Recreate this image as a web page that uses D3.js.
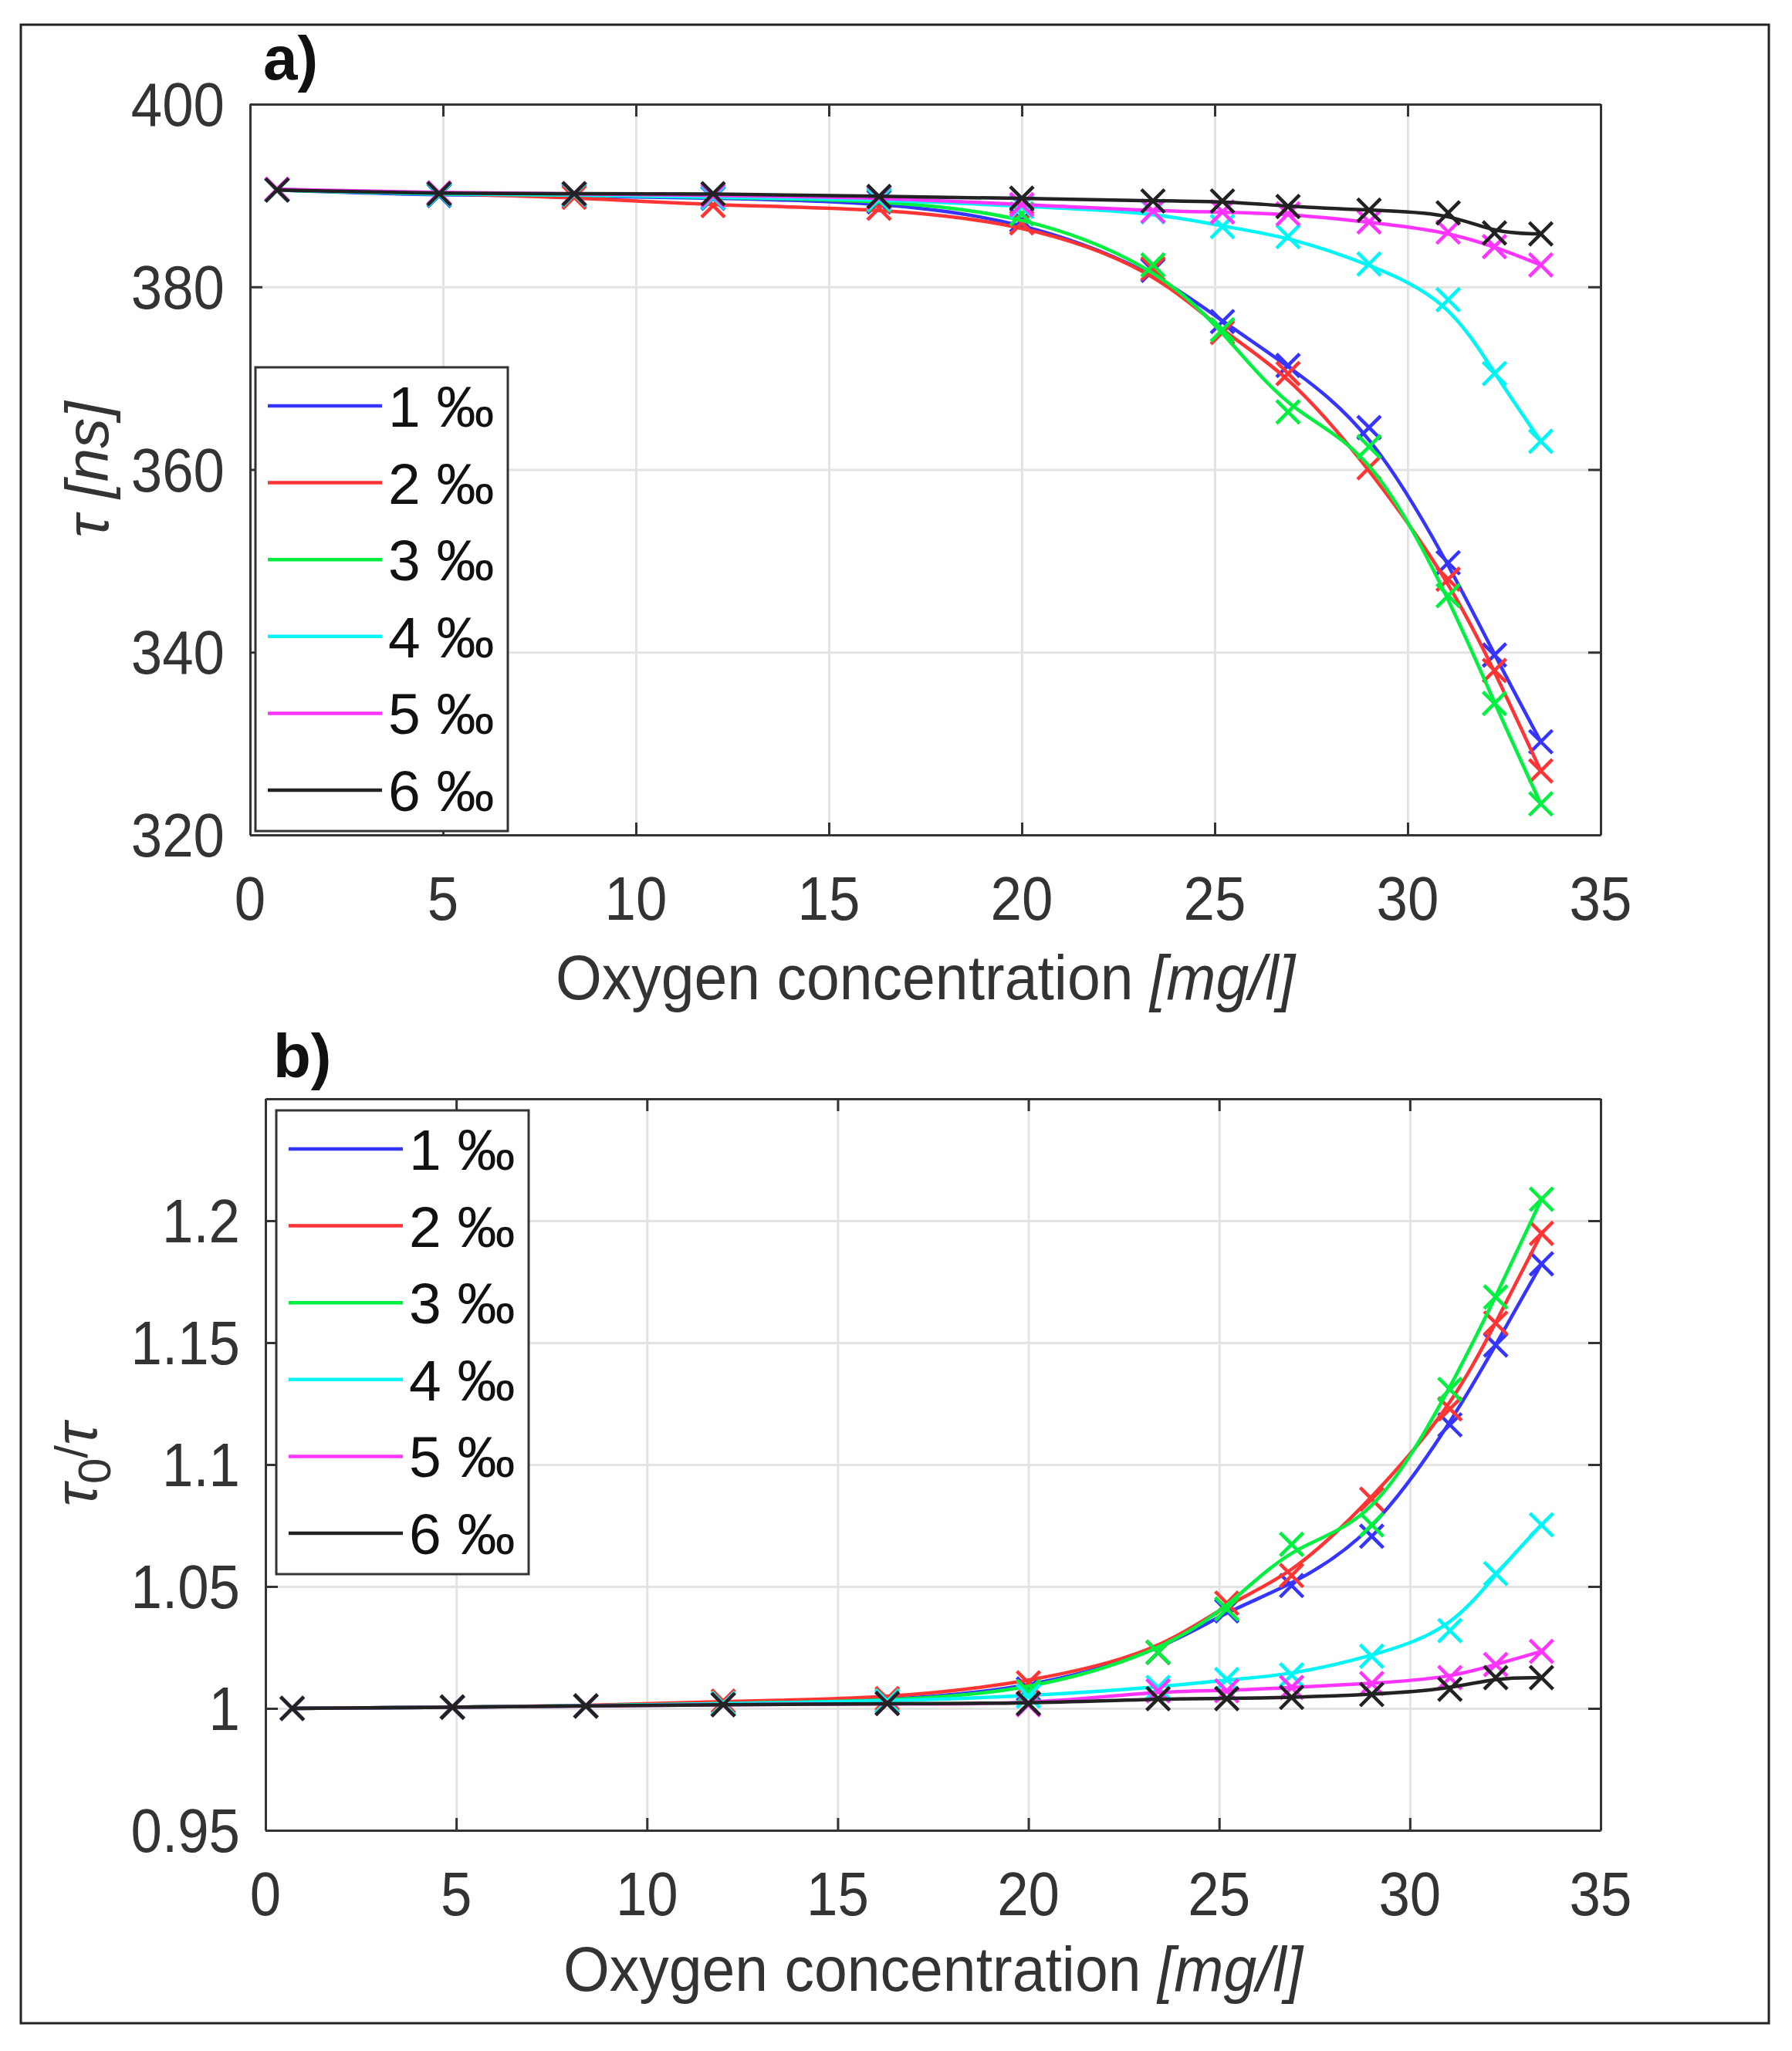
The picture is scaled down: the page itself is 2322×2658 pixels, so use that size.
<!DOCTYPE html>
<html>
<head>
<meta charset="utf-8">
<script src="https://cdn.jsdelivr.net/npm/d3@7"></script>
<style>
  body { margin: 0; background: #fff; }
  text { font-family: "Liberation Sans", Arial, Helvetica, sans-serif; }
</style>
</head>
<body>
<div id="chart"></div>
<script>
// oxygen concentration of each measurement [mg/l]
const oxygen = [0.7, 4.9, 8.4, 12.0, 16.3, 20.0, 23.4, 25.2, 26.9, 29.0, 31.05, 32.25, 33.45]

const seriesNames = ["1 ‰", "2 ‰", "3 ‰", "4 ‰", "5 ‰", "6 ‰"]
const seriesColors = ["#3535ff", "#ff3535", "#00f040", "#00f5f5", "#ff35ff", "#222222"]

// panel a) lifetime tau [ns]
const tau1 = [390.6, 390.0, 390.0, 389.7, 389.3, 387.3, 381.8, 376.2, 371.4, 364.6, 349.8, 339.7, 330.2]
const tau2 = [390.6, 390.2, 389.8, 388.9, 388.6, 387.0, 382.0, 375.0, 370.5, 360.2, 348.0, 338.0, 327.0]
const tau3 = [390.6, 390.1, 390.1, 389.8, 389.5, 388.0, 382.4, 375.3, 366.3, 362.5, 346.2, 334.4, 323.4]
const tau4 = [390.6, 390.1, 390.1, 389.8, 389.6, 388.8, 388.2, 386.6, 385.5, 382.5, 378.6, 370.5, 363.1]
const tau5 = [390.7, 390.3, 390.2, 390.0, 389.8, 389.0, 388.3, 388.2, 388.0, 387.1, 386.0, 384.4, 382.4]
const tau6 = [390.6, 390.2, 390.2, 390.2, 389.9, 389.7, 389.4, 389.4, 388.8, 388.4, 388.1, 385.9, 385.8]

// panel b) ratio tau0 / tau
const ratio1 = [1.000, 1.0005, 1.001, 1.002, 1.003, 1.008, 1.023, 1.040, 1.0504, 1.0706, 1.1163, 1.149, 1.1823]
const ratio2 = [1.000, 1.0005, 1.001, 1.003, 1.004, 1.0105, 1.023, 1.0432, 1.0545, 1.0858, 1.1228, 1.158, 1.1948]
const ratio3 = [1.000, 1.0005, 1.001, 1.002, 1.003, 1.0069, 1.023, 1.0408, 1.0673, 1.0753, 1.1308, 1.1687, 1.2088]
const ratio4 = [1.000, 1.0005, 1.001, 1.002, 1.003, 1.005, 1.0086, 1.0118, 1.0137, 1.0214, 1.0319, 1.0553, 1.0753]
const ratio5 = [1.000, 1.0005, 1.001, 1.0015, 1.002, 1.0015, 1.0072, 1.0072, 1.0086, 1.0102, 1.0126, 1.018, 1.0234]
const ratio6 = [1.000, 1.0005, 1.001, 1.0015, 1.002, 1.002, 1.004, 1.004, 1.0045, 1.0057, 1.0079, 1.0126, 1.0126]

const xTicks = [0, 5, 10, 15, 20, 25, 30, 35]
const tauTicks = [320, 340, 360, 380, 400]
const ratioTicks = [0.95, 1, 1.05, 1.1, 1.15, 1.2]

const W = 2322, H = 2658
const squeeze = 0.92   // the reference text is a bit narrow

const svg = d3.select("#chart").append("svg")
    .attr("width", W)
    .attr("height", H)

// outer frame round both panels
svg.append("rect")
    .attr("x", 27).attr("y", 32)
    .attr("width", 2265).attr("height", 2590)
    .attr("fill", "none")
    .attr("stroke", "#222")
    .attr("stroke-width", 3)

function drawPanel(p) {
    const g = svg.append("g")
    const w = p.right - p.left, h = p.bottom - p.top

    const x = d3.scaleLinear().domain([0, 35]).range([p.left, p.right])
    const y = d3.scaleLinear().domain(p.yDomain).range([p.bottom, p.top])

    // grid
    g.append("g")
        .attr("transform", `translate(0,${p.bottom})`)
        .call(d3.axisBottom(x).tickValues(xTicks).tickSize(-h).tickFormat(""))
        .call(a => a.select(".domain").remove())
        .selectAll("line").attr("stroke", "#e3e3e3").attr("stroke-width", 3)
    g.append("g")
        .attr("transform", `translate(${p.left},0)`)
        .call(d3.axisLeft(y).tickValues(p.yTicks).tickSize(-w).tickFormat(""))
        .call(a => a.select(".domain").remove())
        .selectAll("line").attr("stroke", "#e3e3e3").attr("stroke-width", 3)

    // series
    const line = d3.line()
        .x(d => x(d[0]))
        .y(d => y(d[1]))
        .curve(d3.curveBasis)

    p.series.forEach((vals, i) => {
        const pts = oxygen.map((o, k) => [o, vals[k]])
        g.append("path")
            .datum(pts)
            .attr("d", line)
            .attr("fill", "none")
            .attr("stroke", seriesColors[i])
            .attr("stroke-width", 4.5)
        const s = 15
        g.append("g").selectAll("path")
            .data(pts)
            .join("path")
            .attr("d", d => {
                const cx = x(d[0]), cy = y(d[1])
                return `M${cx - s},${cy - s}L${cx + s},${cy + s}M${cx - s},${cy + s}L${cx + s},${cy - s}`
            })
            .attr("stroke", seriesColors[i])
            .attr("stroke-width", 4.5)
    })

    // axes box with inward ticks on every side
    const axisColor = "#333"
    const tick = 16
    const styleAxis = a => {
        a.select(".domain").attr("stroke", axisColor).attr("stroke-width", 3)
        a.selectAll("line").attr("stroke", axisColor).attr("stroke-width", 3)
    }
    g.append("g").attr("transform", `translate(0,${p.bottom})`)
        .call(d3.axisBottom(x).tickValues(xTicks).tickSize(-tick).tickSizeOuter(0).tickFormat(""))
        .call(styleAxis)
    g.append("g").attr("transform", `translate(0,${p.top})`)
        .call(d3.axisTop(x).tickValues(xTicks).tickSize(-tick).tickSizeOuter(0).tickFormat(""))
        .call(styleAxis)
    g.append("g").attr("transform", `translate(${p.left},0)`)
        .call(d3.axisLeft(y).tickValues(p.yTicks).tickSize(-tick).tickSizeOuter(0).tickFormat(""))
        .call(styleAxis)
    g.append("g").attr("transform", `translate(${p.right},0)`)
        .call(d3.axisRight(y).tickValues(p.yTicks).tickSize(-tick).tickSizeOuter(0).tickFormat(""))
        .call(styleAxis)

    // tick labels
    g.append("g").selectAll("text")
        .data(xTicks)
        .join("text")
        .attr("transform", d => `translate(${x(d)},${p.bottom + 110}) scale(${squeeze},1)`)
        .attr("text-anchor", "middle")
        .attr("font-size", 79)
        .attr("fill", "#333")
        .text(d => d)
    g.append("g").selectAll("text")
        .data(p.yTicks)
        .join("text")
        .attr("transform", d => `translate(${p.left - 33},${y(d) + 28}) scale(${squeeze},1)`)
        .attr("text-anchor", "end")
        .attr("font-size", 79)
        .attr("fill", "#333")
        .text(d => String(+d.toFixed(2)))

    // x label
    const xl = g.append("text")
        .attr("transform", `translate(${(p.left + p.right) / 2},${p.xLabelY}) scale(0.95,1)`)
        .attr("text-anchor", "middle")
        .attr("font-size", 81)
        .attr("fill", "#333")
    xl.append("tspan").text("Oxygen concentration ")
    xl.append("tspan").attr("font-style", "italic").text("[mg/l]")

    // y label
    const yl = g.append("text")
        .attr("transform", `translate(${p.yLabelX},${(p.top + p.bottom) / 2}) rotate(-90)`)
        .attr("text-anchor", "middle")
        .attr("font-size", 78)
        .attr("fill", "#333")
    p.yLabel(yl)

    // panel letter
    g.append("text")
        .attr("x", p.letterX).attr("y", p.letterY)
        .attr("font-size", 80)
        .attr("font-weight", "bold")
        .attr("fill", "#111")
        .text(p.letter)

    // legend
    const lg = g.append("g").attr("transform", `translate(${p.legend[0]},${p.legend[1]})`)
    lg.append("rect")
        .attr("width", 327).attr("height", 601)
        .attr("fill", "#fff")
        .attr("stroke", "#333")
        .attr("stroke-width", 3)
    seriesNames.forEach((name, i) => {
        const ly = 50 + i * 99.6
        lg.append("line")
            .attr("x1", 16).attr("x2", 164)
            .attr("y1", ly).attr("y2", ly)
            .attr("stroke", seriesColors[i])
            .attr("stroke-width", 4.5)
        lg.append("text")
            .attr("transform", `translate(172,${ly + 27})`)
            .attr("font-size", 75)
            .attr("fill", "#111")
            .text(name)
    })
}

drawPanel({
    left: 324, right: 2074, top: 135, bottom: 1082,
    yDomain: [320, 400], yTicks: tauTicks,
    series: [tau1, tau2, tau3, tau4, tau5, tau6],
    xLabelY: 1295, yLabelX: 140,
    yLabel: t => {
        t.append("tspan").attr("font-style", "italic").text("τ ")
        t.append("tspan").attr("font-style", "italic").text("[ns]")
    },
    letter: "a)", letterX: 341, letterY: 103,
    legend: [331, 476]
})

drawPanel({
    left: 344, right: 2074, top: 1424, bottom: 2372,
    yDomain: [0.95, 1.25], yTicks: ratioTicks,
    series: [ratio1, ratio2, ratio3, ratio4, ratio5, ratio6],
    xLabelY: 2580, yLabelX: 125,
    yLabel: t => {
        t.append("tspan").attr("font-style", "italic").text("τ")
        t.append("tspan").attr("dy", 18).attr("font-size", 60).text("0")
        t.append("tspan").attr("dy", -30).attr("font-size", 60).text("/")
        t.append("tspan").attr("dy", 12).attr("font-style", "italic").text("τ")
    },
    letter: "b)", letterX: 354, letterY: 1396,
    legend: [358, 1439]
})
</script>
</body>
</html>
